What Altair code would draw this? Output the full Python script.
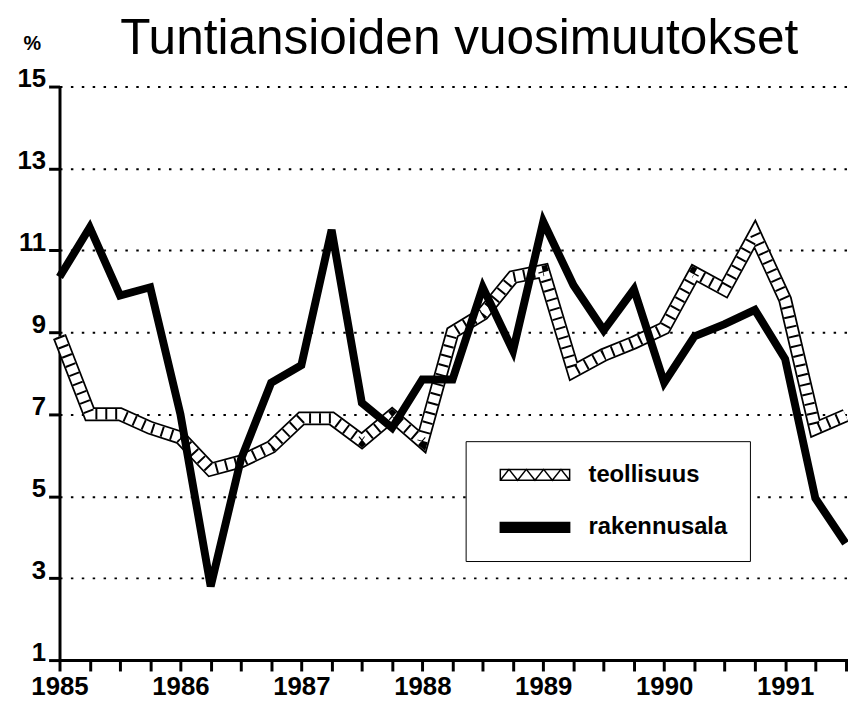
import altair as alt
import pandas as pd

# quarterly observations 1985Q1 .. 1991Q3
aika = [1985.0, 1985.25, 1985.5, 1985.75,
        1986.0, 1986.25, 1986.5, 1986.75,
        1987.0, 1987.25, 1987.5, 1987.75,
        1988.0, 1988.25, 1988.5, 1988.75,
        1989.0, 1989.25, 1989.5, 1989.75,
        1990.0, 1990.25, 1990.5, 1990.75,
        1991.0, 1991.25, 1991.5]

teollisuus = [8.9, 7.0, 7.0, 6.67, 6.43, 5.65, 5.85, 6.2,
              6.9, 6.9, 6.35, 6.97, 6.33, 9.0, 9.45, 10.35,
              10.5, 8.05, 8.45, 8.75, 9.1, 10.45, 10.05, 11.4,
              9.8, 6.65, 6.97]

rakennusala = [10.35, 11.56, 9.9, 10.1, 7.0, 2.8, 5.9, 7.77,
               8.2, 11.5, 7.28, 6.67, 7.85, 7.85, 10.1, 8.55,
               11.7, 10.15, 9.05, 10.05, 7.77, 8.9, 9.2, 9.55,
               8.35, 4.95, 3.85]

sarjat = ["teollisuus", "rakennusala"]
y_ticks = [1, 3, 5, 7, 9, 11, 13, 15]
x_ticks = aika
otsikko = "Tuntiansioiden vuosimuutokset"

df = pd.DataFrame({
    "aika": aika + aika,
    "arvo": teollisuus + rakennusala,
    "sarja": [sarjat[0]] * len(aika) + [sarjat[1]] * len(aika),
})

FONT = "Liberation Sans"

x_enc = alt.X(
    "aika:Q",
    scale=alt.Scale(domain=[1985, 1991.52], nice=False, zero=False),
    axis=alt.Axis(
        values=x_ticks,
        labelExpr="datum.value % 1 == 0 ? format(datum.value, 'd') : ''",
        labelOverlap=False,
        labelFlush=False,
        labelFont=FONT,
        labelFontSize=26,
        labelFontWeight="bold",
        labelColor="black",
        labelPadding=3,
        labelBaseline="top",
        tickSize=11,
        grid=False,
        title=otsikko,
        titleX=403,
        titleY=-612,
        titleAlign="center",
        titleBaseline="alphabetic",
        titleFont=FONT,
        titleFontSize=50,
        titleFontWeight="normal",
        titleColor="black",
    ),
)

y_enc = alt.Y(
    "arvo:Q",
    scale=alt.Scale(domain=[1, 15], nice=False, zero=False),
    axis=alt.Axis(
        values=y_ticks,
        format="d",
        labelFont=FONT,
        labelFontSize=26,
        labelFontWeight="bold",
        labelColor="black",
        labelBaseline="alphabetic",
        labelPadding=3,
        tickSize=11,
        grid=True,
        gridDash=[2.5, 8.5],
        gridColor="black",
        gridWidth=2,
        gridOpacity=1,
        title="%",
        titleAngle=0,
        titleX=-28,
        titleY=-43,
        titleAlign="center",
        titleBaseline="middle",
        titleFont=FONT,
        titleFontSize=20,
        titleFontWeight="bold",
        titleColor="black",
    ),
)

base = alt.Chart(df)
teo = base.transform_filter(alt.datum.sarja == sarjat[0])
rak = base.transform_filter(alt.datum.sarja == sarjat[1])

band_outer = teo.mark_line(color="black", strokeWidth=14, strokeJoin="miter").encode(x=x_enc, y=y_enc)
band_inner = teo.mark_line(color="white", strokeWidth=10.5, strokeJoin="miter").encode(x=x_enc, y=y_enc)
band_hatch = teo.mark_line(color="black", strokeWidth=10.5, strokeJoin="miter",
                           strokeDash=[2, 8]).encode(x=x_enc, y=y_enc)
rak_line = rak.mark_line(color="black", strokeWidth=8, strokeJoin="miter").encode(x=x_enc, y=y_enc)

path_teo = ("M-3.5,-0.55H3.5V0.55H-3.5Z "
            "M-3.5,0.55L-2.625,-0.55L-1.75,0.55L-0.875,-0.55L0,0.55"
            "L0.875,-0.55L1.75,0.55L2.625,-0.55L3.5,0.55")
path_rak = "M-3.5,-0.5H3.5V0.5H-3.5Z"

leg = alt.Legend(
    title=None,
    orient="none",
    legendX=410,
    legendY=358,
    symbolSize=400,
    symbolStrokeColor="black",
    symbolStrokeWidth=1.5,
    symbolOpacity=1,
    symbolOffset=36,
    labelOffset=42,
    labelFont=FONT,
    labelFontSize=24,
    labelFontWeight="bold",
    labelColor="black",
    rowPadding=29,
    padding=22,
    strokeColor="black",
    fillColor="white",
)

legend_layer = base.mark_point(filled=True, opacity=0, strokeWidth=1.5).encode(
    x=x_enc,
    y=y_enc,
    shape=alt.Shape("sarja:N", scale=alt.Scale(domain=sarjat, range=[path_teo, path_rak]), legend=leg),
    fill=alt.Fill("sarja:N", scale=alt.Scale(domain=sarjat, range=["white", "black"]), legend=leg),
    stroke=alt.Stroke("sarja:N", scale=alt.Scale(domain=sarjat, range=["black", "black"]), legend=leg),
)

chart = alt.layer(band_outer, band_inner, band_hatch, rak_line, legend_layer).properties(
    width=796,
    height=579,
    padding={"left": 52, "top": 76, "right": 0, "bottom": 38},
    autosize=alt.AutoSizeParams(type="none"),
).configure_view(stroke=None).configure_axis(
    domainColor="black",
    domainWidth=3,
    tickColor="black",
    tickWidth=3,
)

chart.save("out.html", embed_options={"renderer": "svg", "actions": False})
